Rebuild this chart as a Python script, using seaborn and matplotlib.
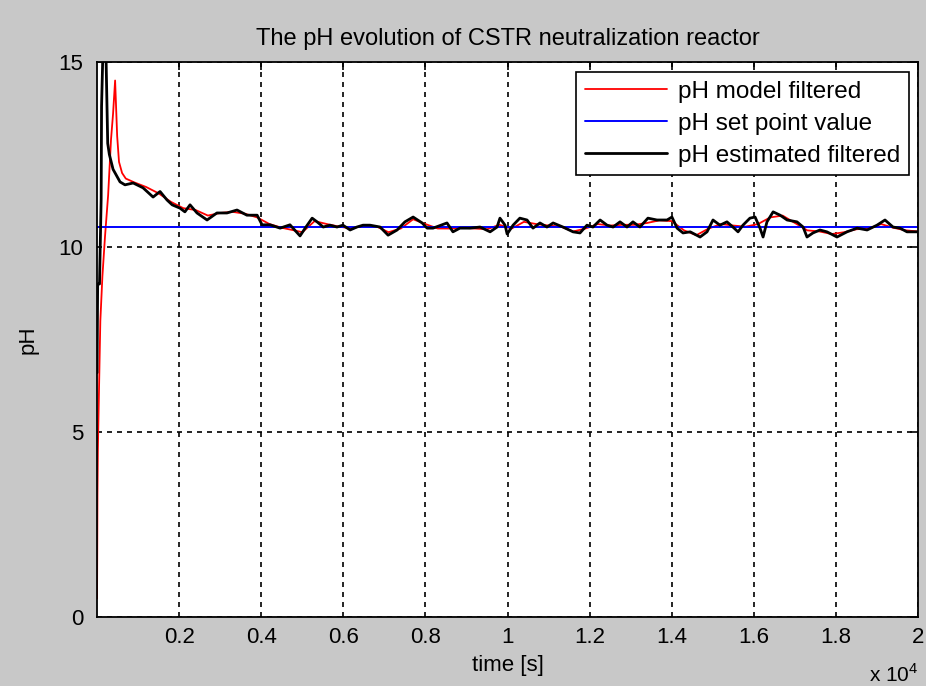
import numpy as np
import pandas as pd
import seaborn as sns
import matplotlib
matplotlib.use("Agg")
import matplotlib.pyplot as plt

# values (time in s, pH)
t_est = [0, 15, 60, 100, 110, 150, 170, 200, 230, 260, 300, 390, 560, 680, 880, 1120,
         1365, 1535, 1705, 1830, 2020, 2140, 2265, 2435, 2680, 2920, 3165, 3410, 3650,
         3900, 4020, 4215, 4460, 4700, 4945, 5070, 5240, 5360, 5510, 5675, 5845, 5990,
         6165, 6330, 6480, 6650, 6895, 7090, 7310, 7500, 7700, 7920, 8040, 8185, 8525,
         8670, 8840, 9085, 9330, 9575, 9745, 9815, 9940, 9990, 10135, 10300, 10475,
         10620, 10790, 10960, 11110, 11350, 11595, 11765, 11935, 12080, 12255, 12425,
         12570, 12740, 12910, 13055, 13225, 13420, 13640, 13885, 14005, 14130, 14275,
         14450, 14690, 14860, 15005, 15175, 15345, 15490, 15615, 15735, 15905, 16030,
         16150, 16225, 16320, 16470, 16640, 16810, 17050, 17200, 17295, 17440, 17610,
         17780, 18025, 18270, 18515, 18760, 19000, 19195, 19390, 19560, 19730, 20000]
ph_est = [6.6, 9.0, 9.0, 11.3, 13.8, 15.6, 16.5, 16.2, 14.5, 12.8, 12.5, 12.1, 11.76,
          11.68, 11.73, 11.6, 11.35, 11.5, 11.27, 11.14, 11.05, 10.95, 11.14, 10.92,
          10.73, 10.92, 10.92, 11.0, 10.86, 10.86, 10.6, 10.6, 10.51, 10.6, 10.3, 10.51,
          10.78, 10.68, 10.54, 10.59, 10.54, 10.59, 10.46, 10.54, 10.59, 10.59, 10.54,
          10.32, 10.46, 10.68, 10.81, 10.65, 10.51, 10.51, 10.65, 10.41, 10.51, 10.51,
          10.54, 10.41, 10.54, 10.78, 10.59, 10.35, 10.59, 10.78, 10.73, 10.51, 10.65,
          10.54, 10.65, 10.54, 10.41, 10.38, 10.59, 10.54, 10.73, 10.59, 10.54, 10.68,
          10.54, 10.68, 10.54, 10.78, 10.73, 10.73, 10.81, 10.51, 10.38, 10.41, 10.27,
          10.41, 10.73, 10.59, 10.68, 10.54, 10.41, 10.59, 10.78, 10.81, 10.51, 10.27,
          10.68, 10.95, 10.86, 10.73, 10.68, 10.54, 10.27, 10.38, 10.46, 10.41, 10.27,
          10.41, 10.51, 10.46, 10.59, 10.73, 10.54, 10.51, 10.41, 10.41]

t_model = [0, 10, 20, 40, 80, 130, 195, 270, 340, 390, 440, 490, 535, 610, 700, 900,
           1200, 1500, 1800, 2100, 2400, 2700, 3000, 3300, 3600, 3900, 4200, 4500, 4800,
           5000, 5300, 5600, 5900, 6200, 6500, 6800, 7100, 7400, 7700, 8000, 8300, 8600,
           8900, 9200, 9500, 9800, 10100, 10400, 10700, 11000, 11300, 11600, 11900,
           12200, 12500, 12800, 13100, 13400, 13700, 14000, 14300, 14600, 14900, 15200,
           15500, 15800, 16100, 16400, 16700, 17000, 17300, 17600, 17900, 18200, 18500,
           18800, 19100, 19400, 19700, 20000]
ph_model = [0.5, 3.3, 4.5, 5.7, 8.0, 9.2, 10.3, 11.4, 12.9, 13.6, 14.5, 13.0, 12.3,
            12.0, 11.85, 11.75, 11.62, 11.45, 11.22, 11.05, 11.0, 10.85, 10.92, 10.95,
            10.9, 10.8, 10.62, 10.52, 10.45, 10.4, 10.7, 10.62, 10.55, 10.5, 10.58,
            10.56, 10.4, 10.5, 10.75, 10.62, 10.5, 10.5, 10.52, 10.5, 10.48, 10.6,
            10.5, 10.68, 10.62, 10.58, 10.55, 10.42, 10.5, 10.62, 10.58, 10.6, 10.6,
            10.65, 10.72, 10.7, 10.45, 10.32, 10.5, 10.62, 10.58, 10.55, 10.62, 10.8,
            10.85, 10.65, 10.45, 10.42, 10.35, 10.4, 10.48, 10.5, 10.62, 10.52, 10.45,
            10.42]

set_point = 10.54
x_ticks = [2000, 4000, 6000, 8000, 10000, 12000, 14000, 16000, 18000, 20000]
x_ticklabels = ["0.2", "0.4", "0.6", "0.8", "1", "1.2", "1.4", "1.6", "1.8", "2"]
y_ticks = [0, 5, 10, 15]

sns.set_theme(style="white")
plt.rcParams["font.family"] = ["Liberation Sans", "DejaVu Sans"]
plt.rcParams["mathtext.fontset"] = "custom"
plt.rcParams["mathtext.rm"] = "Liberation Sans"
plt.rcParams["text.color"] = "black"
plt.rcParams["axes.labelcolor"] = "black"

df_model = pd.DataFrame({"t": t_model, "ph": ph_model})
df_est = pd.DataFrame({"t": t_est, "ph": ph_est})
df_sp = pd.DataFrame({"t": [0, 20000], "ph": [set_point, set_point]})

fig = plt.figure(figsize=(9.26, 6.86), dpi=100, facecolor="#c8c8c8")
ax = fig.add_axes([0.1048, 0.1006, 0.8866, 0.809])
ax.set_facecolor("white")

fs = 17
sns.lineplot(data=df_model, x="t", y="ph", ax=ax, color="red", lw=1.3, sort=False,
             estimator=None, label="pH model filtered")
sns.lineplot(data=df_sp, x="t", y="ph", ax=ax, color="blue", lw=1.4, sort=False,
             estimator=None, label="pH set point value")
sns.lineplot(data=df_est, x="t", y="ph", ax=ax, color="black", lw=2.0, sort=False,
             estimator=None, label="pH estimated filtered")

ax.set_xlim(0, 20000)
ax.set_ylim(0, 15)
ax.set_xticks(x_ticks)
ax.set_xticklabels(x_ticklabels)
ax.set_yticks(y_ticks)
ax.grid(True, color="black", linestyle=(0, (3, 3)), lw=1.2)
ax.tick_params(direction="in", length=6, width=1.2, top=True, right=True,
               labelsize=16, colors="black")
ax.tick_params(axis="x", pad=7)
ax.tick_params(axis="y", pad=10)
for s in ax.spines.values():
    s.set_visible(True)
    s.set_color("black")
    s.set_linewidth(1.3)

ax.set_title("The pH evolution of CSTR neutralization reactor", fontsize=fs, pad=12)
ax.set_xlabel("time [s]", fontsize=16, labelpad=5)
ax.set_ylabel("pH", fontsize=16, labelpad=14)
ax.text(1.0, -0.1045, r"x 10$^{\mathregular{4}}$", transform=ax.transAxes,
        ha="right", va="center", fontsize=15)

leg = ax.legend(loc="upper right", bbox_to_anchor=(0.989, 0.982), borderaxespad=0,
                fontsize=17.5, fancybox=False, framealpha=1, edgecolor="black",
                handlelength=3.4, handletextpad=0.45, labelspacing=0.42,
                borderpad=0.35)
leg.get_frame().set_linewidth(1.2)

fig.savefig("out.png", dpi=100, facecolor=fig.get_facecolor())
